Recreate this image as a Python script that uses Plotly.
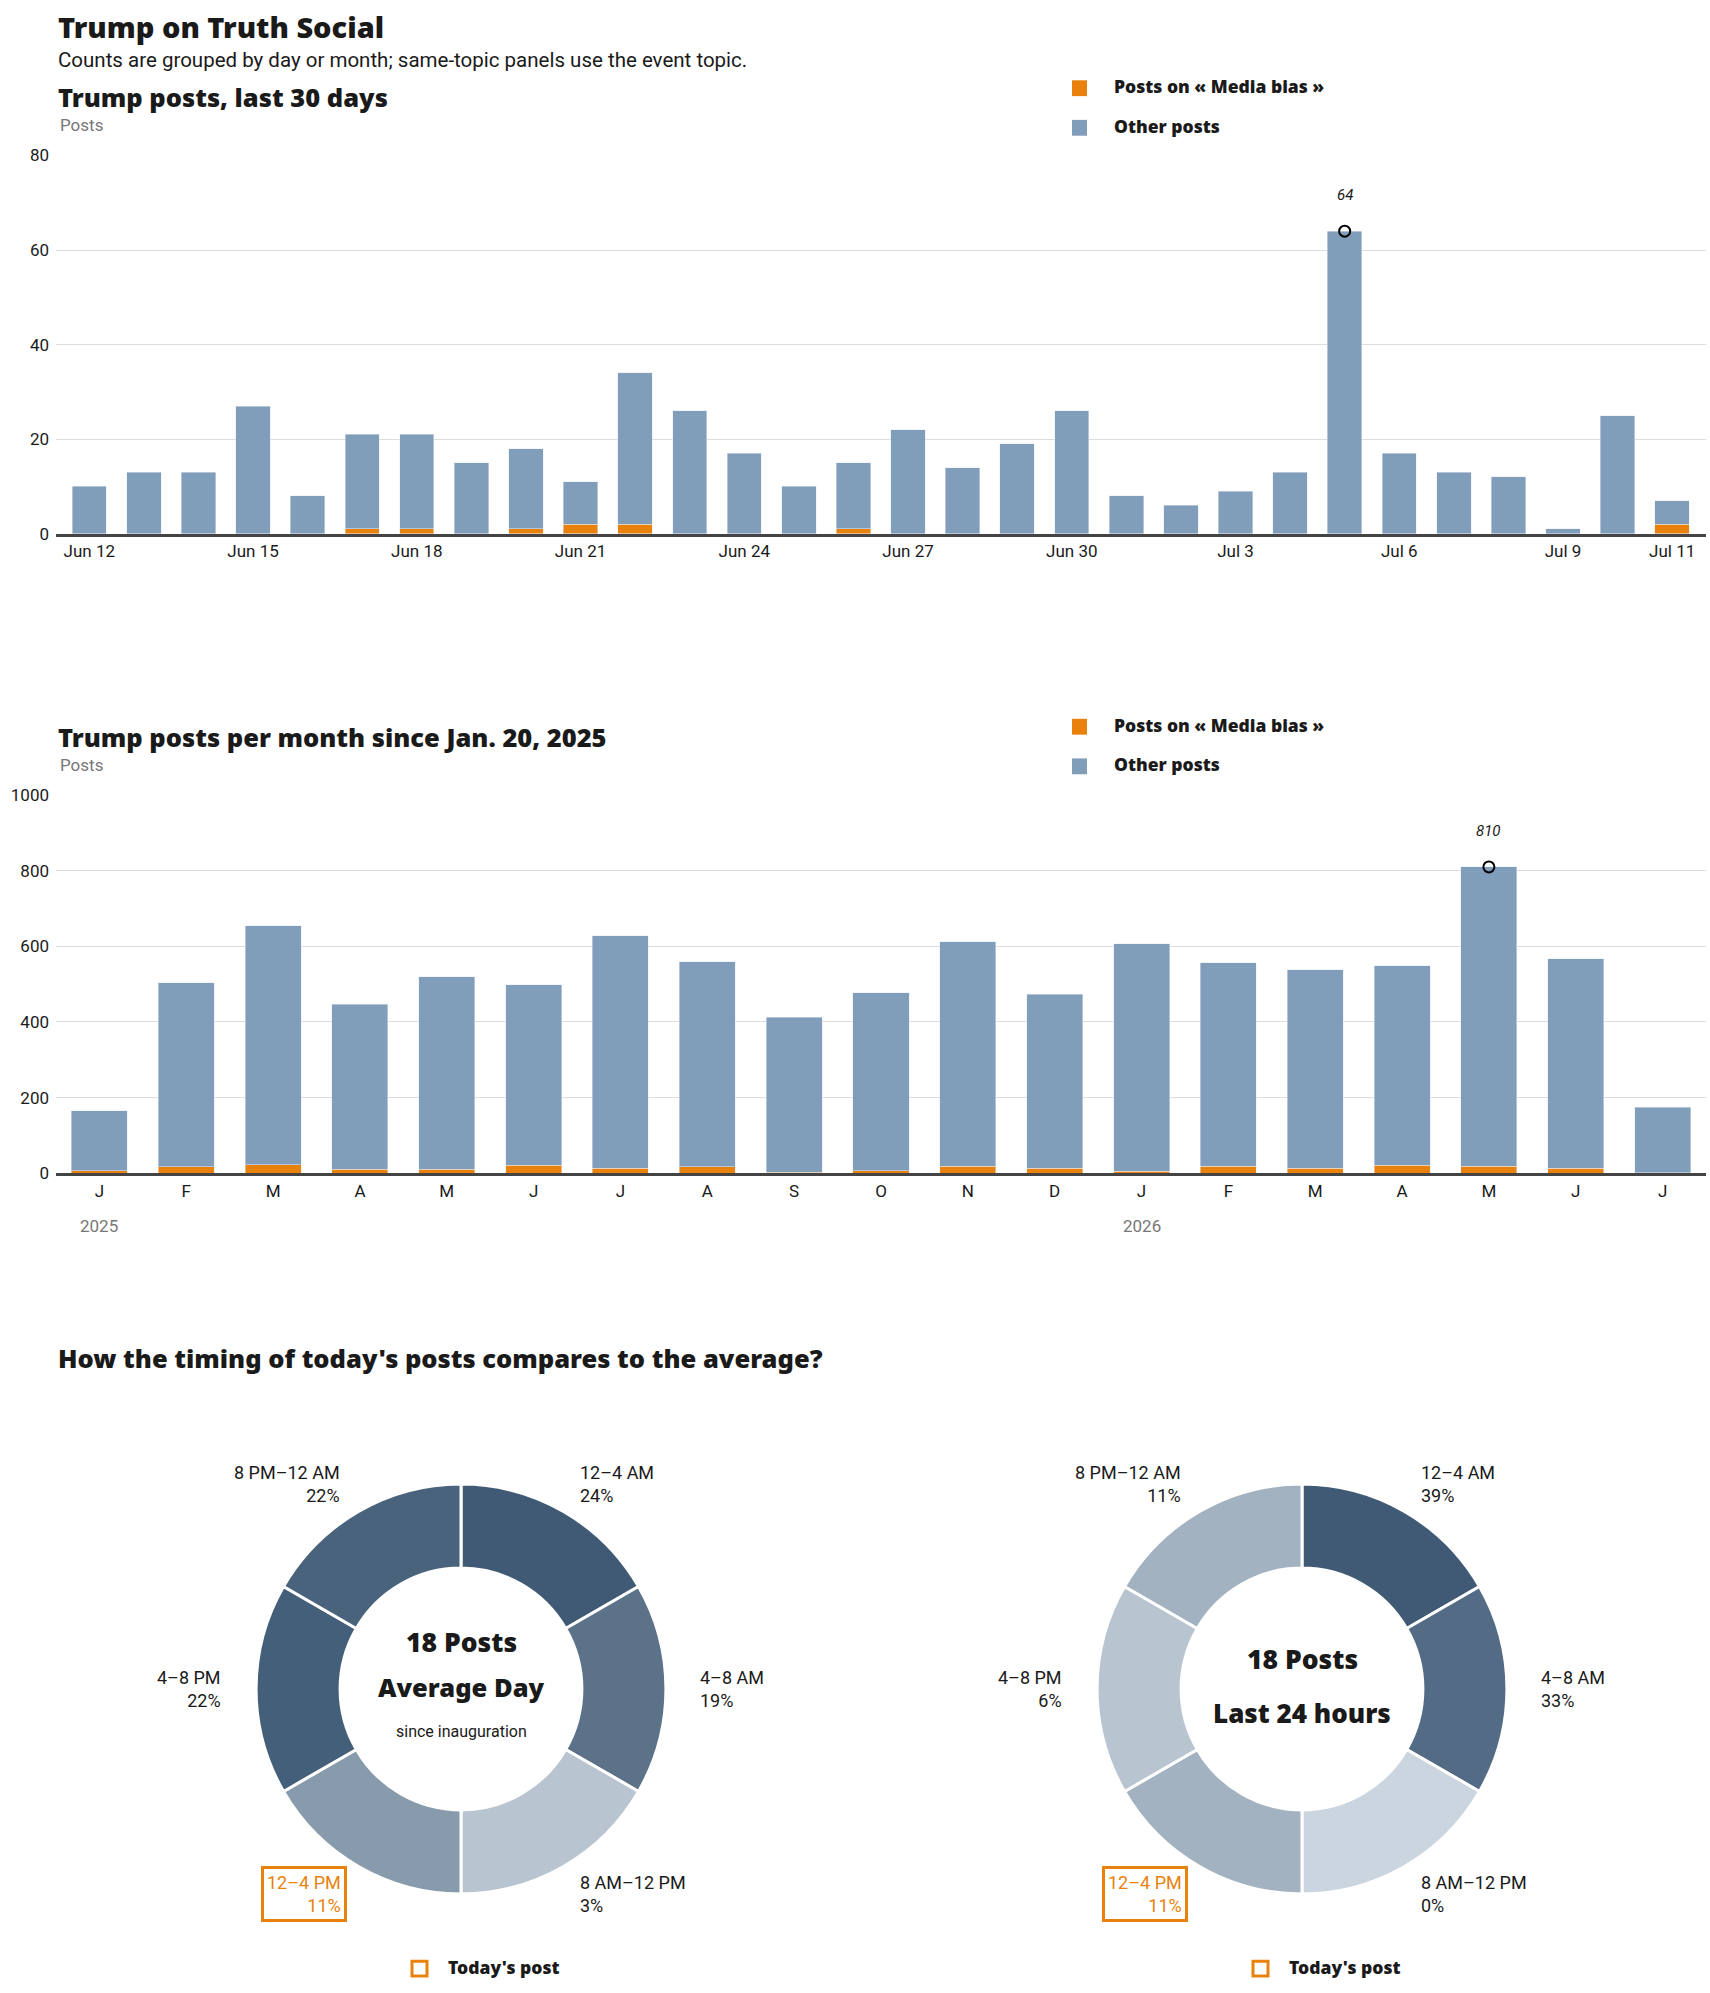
import pandas as pd
import plotly.graph_objects as go

W, H = 1710, 1993

FONT = "Roboto, 'Liberation Sans', sans-serif"
HEAVY = "'Noto Sans', Lato, sans-serif"
ORANGE = "#e8820c"
BLUE = "#809dba"
INK = "#1a1a1a"
GREY = "#777777"

# ---- data ----
days = pd.date_range("2026-06-12", "2026-07-11", freq="D")
day_media = [0, 0, 0, 0, 0, 1, 1, 0, 1, 2, 2, 0, 0, 0, 1,
             0, 0, 0, 0, 0, 0, 0, 0, 0, 0, 0, 0, 0, 0, 2]
day_other = [10, 13, 13, 27, 8, 20, 20, 15, 17, 9, 32, 26, 17, 10, 14,
             22, 14, 19, 26, 8, 6, 9, 13, 64, 17, 13, 12, 1, 25, 5]

months = pd.date_range("2025-01-01", "2026-07-01", freq="MS")
month_media = [6, 17, 23, 10, 10, 21, 13, 17, 2, 7, 18, 13, 5, 18, 13, 21, 18, 13, 1]
month_other = [159, 487, 631, 437, 510, 478, 615, 542, 410, 470, 594, 460,
               602, 538, 525, 528, 792, 554, 174]

slots = ["12–4 AM", "4–8 AM", "8 AM–12 PM", "12–4 PM", "4–8 PM", "8 PM–12 AM"]
slot_hours = [4, 4, 4, 4, 4, 4]
avg_pct = [24, 19, 3, 11, 22, 22]
today_pct = [39, 33, 0, 11, 6, 11]
avg_colors = ["#405a75", "#5b7289", "#b8c5d1", "#889bad", "#445f7a", "#4a637c"]
today_colors = ["#405a75", "#536b85", "#cbd5df", "#a3b2c0", "#b8c5d1", "#a3b2c0"]
today_slot = "12–4 PM"
posts_per_day = 18

day_keys = days.strftime("%Y-%m-%d").tolist()
month_keys = months.strftime("%Y-%m").tolist()


def px(x):
    return x / W


def py(y):
    return 1 - y / H


def text(x, y, s, size=18, color=INK, weight=400, xanchor="left", family=FONT, **kw):
    return dict(x=px(x), y=py(y), xref="paper", yref="paper", text=s,
                showarrow=False, xanchor=xanchor, yanchor="middle",
                font=dict(family=family, size=size, color=color, weight=weight), **kw)


def heavy(x, y, s, size, xanchor="left"):
    return text(x, y, s, size, INK, 900, xanchor, family=HEAVY)


fig = go.Figure()
annotations = []
shapes = []

# ---- daily chart ----
fig.add_trace(go.Bar(x=day_keys, y=day_media, marker_color=ORANGE, xaxis="x", yaxis="y",
                     width=0.63, showlegend=False))
fig.add_trace(go.Bar(x=day_keys, y=day_other, marker_color=BLUE, xaxis="x", yaxis="y",
                     width=0.63, showlegend=False))
day_tot = [a + b for a, b in zip(day_media, day_other)]
i_max = day_tot.index(max(day_tot))
fig.add_trace(go.Scatter(x=[day_keys[i_max]], y=[day_tot[i_max]], mode="markers",
                         marker=dict(symbol="circle-open", size=11, color="black",
                                     line=dict(width=2)),
                         xaxis="x", yaxis="y", showlegend=False, cliponaxis=False))
annotations.append(dict(x=day_keys[i_max], y=day_tot[i_max], xref="x", yref="y",
                        text=str(day_tot[i_max]), showarrow=False, yshift=36,
                        font=dict(family=FONT, size=15, color=INK, style="italic")))

# ---- monthly chart ----
fig.add_trace(go.Bar(x=month_keys, y=month_media, marker_color=ORANGE, xaxis="x2", yaxis="y2",
                     width=0.645, showlegend=False))
fig.add_trace(go.Bar(x=month_keys, y=month_other, marker_color=BLUE, xaxis="x2", yaxis="y2",
                     width=0.645, showlegend=False))
month_tot = [a + b for a, b in zip(month_media, month_other)]
j_max = month_tot.index(max(month_tot))
fig.add_trace(go.Scatter(x=[month_keys[j_max]], y=[month_tot[j_max]], mode="markers",
                         marker=dict(symbol="circle-open", size=11, color="black",
                                     line=dict(width=2)),
                         xaxis="x2", yaxis="y2", showlegend=False, cliponaxis=False))
annotations.append(dict(x=month_keys[j_max], y=month_tot[j_max], xref="x2", yref="y2",
                        text=str(month_tot[j_max]), showarrow=False, yshift=36,
                        font=dict(family=FONT, size=15, color=INK, style="italic")))

# ---- donuts ----
R = 207
for cx, pct, cols, lines in [
    (461, avg_pct, avg_colors, ["18 Posts", "Average Day", "since inauguration"]),
    (1302, today_pct, today_colors, ["18 Posts", "Last 24 hours"]),
]:
    cy = 1696
    fig.add_trace(go.Pie(values=slot_hours, labels=slots, hole=0.59, sort=False,
                         direction="clockwise", rotation=0, textinfo="none",
                         marker=dict(colors=cols, line=dict(color="white", width=3)),
                         domain=dict(x=[px(cx - R), px(cx + R)], y=[py(cy + R), py(cy - R)]),
                         showlegend=False, hoverinfo="label"))
    offs = [(117, -207, "left"), (237, 0, "left"), (117, 207, "left"),
            (-120, 207, "right"), (-238, 0, "right"), (-119, -207, "right")]
    for (dx, dy, anc), lab, p in zip(offs, slots, pct):
        s = f"{lab}<br>{p}%"
        if lab == today_slot:
            annotations.append(text(cx + dx + 6, cy + dy, s, size=18, color=ORANGE,
                                    xanchor=anc, align=anc, bordercolor=ORANGE,
                                    borderwidth=3, borderpad=3))
        else:
            annotations.append(text(cx + dx, cy + dy, s, size=18, color=INK,
                                    xanchor=anc, align=anc))
    if len(lines) == 3:
        annotations.append(heavy(cx, cy - 47, f"{posts_per_day} Posts", 26.5, "center"))
        annotations.append(heavy(cx, cy - 2, lines[1], 25.5, "center"))
        annotations.append(text(cx, cy + 43, lines[2], 16, INK, 400, "center"))
    else:
        annotations.append(heavy(cx, cy - 30, f"{posts_per_day} Posts", 26.5, "center"))
        annotations.append(heavy(cx, cy + 24, lines[1], 26, "center"))
    # today's post key
    shapes.append(dict(type="rect", xref="paper", yref="paper",
                       x0=px(cx - 49), x1=px(cx - 34), y0=py(1986), y1=py(1971),
                       line=dict(color=ORANGE, width=3)))
    annotations.append(heavy(cx - 15, 1977, "Today's post", 17.5))

# ---- titles and keys ----
annotations += [
    heavy(56, 17, "Trump on Truth Social", 29),
    text(56, 51, "Counts are grouped by day or month; same-topic panels use the event topic.", 20.5, INK),
    heavy(56, 88, "Trump posts, last 30 days", 25.5),
    text(58, 116, "Posts", 17, GREY),
    heavy(56, 734, "Trump posts per month since Jan. 20, 2025", 25.5),
    text(58, 763, "Posts", 17, GREY),
    heavy(56, 1362, "How the timing of today's posts compares to the average?", 25.5),
]
for ytop in (79, 724):
    for k, (col, lab) in enumerate([(ORANGE, "Posts on « Media bias »"), (BLUE, "Other posts")]):
        yc = ytop + 40 * k
        shapes.append(dict(type="rect", xref="paper", yref="paper", x0=px(1072), x1=px(1087),
                           y0=py(yc + 8), y1=py(yc - 8), fillcolor=col, line=dict(width=0)))
        annotations.append(heavy(1112, yc - 2, lab, 17.5))

# year labels under the month axis
for key in month_keys:
    if key.endswith("-01"):
        annotations.append(dict(x=key, y=py(1228), xref="x2", yref="paper", text=key[:4],
                                showarrow=False, yanchor="middle",
                                font=dict(family=FONT, size=17, color=GREY)))

day_ticks = day_keys[::3] + [day_keys[-1]]
day_ticktext = [pd.Timestamp(d).strftime("%b %-d") for d in day_ticks]
month_ticktext = [m.strftime("%b")[0] for m in months]

axis_common = dict(showgrid=False, showline=True, linecolor="#444444", linewidth=3,
                   ticks="", tickfont=dict(family=FONT, size=17, color=INK), fixedrange=True)
yaxis_common = dict(showgrid=True, gridcolor="#dddddd", gridwidth=1, zeroline=False,
                    ticks="", tickfont=dict(family=FONT, size=17, color=INK),
                    ticklabelstandoff=6, fixedrange=True)

fig.update_layout(
    width=W, height=H, margin=dict(l=0, r=0, t=0, b=0),
    paper_bgcolor="white", plot_bgcolor="white",
    barmode="stack", bargap=0.37,
    font=dict(family=FONT, color=INK),
    xaxis=dict(axis_common, type="category", domain=[px(56), px(1706)],
               range=[-0.61, 29.62], tickvals=day_ticks, ticktext=day_ticktext, anchor="y"),
    yaxis=dict(yaxis_common, domain=[py(529), py(147)], range=[0, 80],
               tickvals=[0, 20, 40, 60, 80], anchor="x"),
    xaxis2=dict(axis_common, type="category", domain=[px(56), px(1706)],
                range=[-0.5, 18.5], tickvals=month_keys, ticktext=month_ticktext, anchor="y2"),
    yaxis2=dict(yaxis_common, domain=[py(1175), py(793)], range=[0, 1000],
                tickvals=[0, 200, 400, 600, 800, 1000], anchor="x2"),
    annotations=annotations,
    shapes=shapes,
)

pin = ("document.body.style.margin='0';"
       "var d=document.getElementById('{plot_id}');"
       "d.style.position='absolute';d.style.top='0px';d.style.left='0px';")
fig.write_html("out.html", config={"displayModeBar": False}, post_script=pin)
